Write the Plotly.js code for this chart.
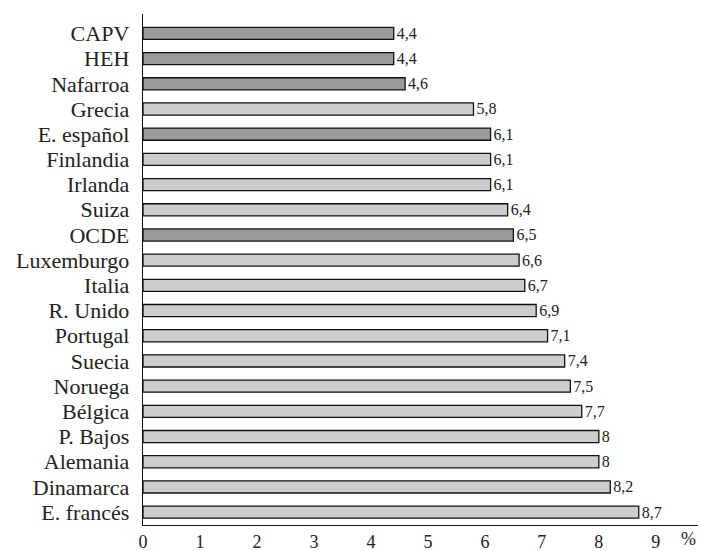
<!DOCTYPE html>
<html>
<head>
<meta charset="utf-8">
<script src="https://cdn.plot.ly/plotly-3.0.1.min.js"></script>
<style>html,body{margin:0;padding:0;background:#fff;}#chart{width:701px;height:551px;}</style>
</head>
<body>
<div id="chart"></div>
<script>
const categories = ["CAPV","HEH","Nafarroa","Grecia","E. español","Finlandia","Irlanda","Suiza","OCDE","Luxemburgo","Italia","R. Unido","Portugal","Suecia","Noruega","Bélgica","P. Bajos","Alemania","Dinamarca","E. francés"];
const values = [4.4,4.4,4.6,5.8,6.1,6.1,6.1,6.4,6.5,6.6,6.7,6.9,7.1,7.4,7.5,7.7,8,8,8.2,8.7];
const highlighted = ["CAPV","HEH","Nafarroa","E. español","OCDE"];
const xTicks = [0,1,2,3,4,5,6,7,8,9];

const DARK = "#9a9a9a", LIGHT = "#cdcdcd";
const colors = categories.map(c => highlighted.includes(c) ? DARK : LIGHT);
const labels = values.map(v => String(v).replace(".", ","));
const FONT = "Liberation Serif, Times New Roman, serif";

const trace = {
  type: "bar",
  orientation: "h",
  y: categories,
  x: values,
  text: labels,
  textposition: "outside",
  constraintext: "none",
  cliponaxis: false,
  textfont: {family: FONT, size: 16, color: "#222"},
  marker: {color: colors, line: {color: "#111", width: 1.3}},
  hoverinfo: "none"
};

const layout = {
  width: 701, height: 551,
  margin: {l: 143, r: 3, t: 14, b: 26},
  paper_bgcolor: "#fff", plot_bgcolor: "#fff",
  showlegend: false,
  bargap: 0.52,
  font: {family: FONT, color: "#222"},
  xaxis: {
    range: [0, 9.74],
    tickmode: "array",
    tickvals: xTicks,
    ticktext: xTicks.map(String),
    showgrid: false, zeroline: false,
    showline: true, linecolor: "#111", linewidth: 1.3,
    ticks: "",
    tickfont: {family: FONT, size: 18, color: "#222"},
    fixedrange: true
  },
  yaxis: {
    type: "category",
    categoryorder: "array",
    categoryarray: categories,
    tickmode: "array",
    tickvals: categories,
    ticktext: categories,
    range: [19.51, -0.77],
    showgrid: false, zeroline: false,
    showline: true, linecolor: "#111", linewidth: 1.3,
    ticks: "outside", ticklen: 8, tickcolor: "rgba(0,0,0,0)",
    tickfont: {family: FONT, size: 22, color: "#222"},
    fixedrange: true
  },
  annotations: [{
    text: "%", xref: "paper", yref: "paper",
    x: (688 - 143) / 555, y: -0.027,
    xanchor: "center", yanchor: "middle",
    showarrow: false,
    font: {family: FONT, size: 18, color: "#222"}
  }]
};

Plotly.newPlot("chart", [trace], layout, {displayModeBar: false, staticPlot: true});
</script>
</body>
</html>
